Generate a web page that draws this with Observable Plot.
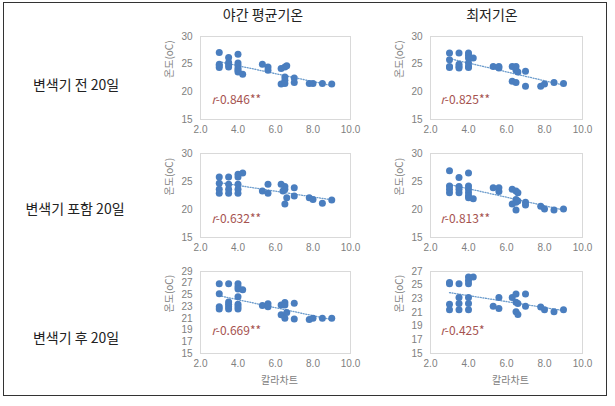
<!DOCTYPE html>
<html><head><meta charset="utf-8">
<script src="https://cdn.jsdelivr.net/npm/d3@7"></script>
<script src="https://cdn.jsdelivr.net/npm/@observablehq/plot@0.6"></script>
<style>
body{margin:0;background:#fff;}
#chart{position:relative;width:615px;height:406px;overflow:hidden;font-family:"Noto Sans CJK KR","Noto Sans",sans-serif;}
.lbl{position:absolute;white-space:nowrap;transform:translate(-50%,-50%);line-height:1;color:#222;font-size:14px;}
.box{position:absolute;left:3px;top:2px;width:604px;height:394px;border:1.5px solid #333;box-sizing:border-box;}
.panel{position:absolute;}
</style></head><body><div id="chart"><div class="box"></div></div>
<script>
// Column headers and row labels
const colHeaders = ["야간 평균기온", "최저기온"];
const rowLabels = ["변색기 전 20일", "변색기 포함 20일", "변색기 후 20일"];
const xTitle = "칼라차트";
const yTitle = "온도(oC)";
const xTicks = [2, 4, 6, 8, 10];

// Row 1: 변색기 전 20일
const before_night_x = [3.0,3.0,3.0,3.0, 3.5,3.5,3.5,3.5, 4.0,4.0,4.0,4.0,4.0,4.0, 4.25, 5.3, 5.6,5.6, 6.3,6.3, 6.5,6.5,6.5,6.5, 6.6, 7.0,7.0, 7.8, 8.0, 8.5, 9.0];
const before_night_y = [27.1,25.0,24.7,24.4, 26.2,25.3,24.9,24.5, 26.8,25.2,24.7,24.2,23.9,23.6, 23.2, 25.0, 24.5,23.9, 24.2,21.4, 24.5,22.7,22.1,21.5, 24.7, 22.5,21.7, 21.5, 21.5, 21.5, 21.4];
const before_min_x = [3.0,3.0,3.0,3.0, 3.5,3.5,3.5,3.5, 4.0,4.0,4.0,4.0,4.0,4.0, 4.25, 5.3, 5.6,5.6, 6.3,6.3, 6.5,6.5,6.5, 6.6, 7.0,7.0, 7.8, 8.0, 8.5, 9.0];
const before_min_y = [27.0,25.8,24.6,24.4, 27.0,25.0,24.6,24.3, 27.0,26.6,26.1,25.2,24.6,24.4, 26.1, 24.6, 24.6,24.3, 24.6,21.9, 24.6,23.9,21.7, 23.6, 23.7,21.0, 21.0, 21.4, 21.7, 21.5];

// Row 2: 변색기 포함 20일
const incl_night_x = [3.0,3.0,3.0,3.0, 3.5,3.5,3.5,3.5, 4.0,4.0,4.0,4.0,4.0, 4.25, 5.3, 5.6,5.6, 6.3, 6.4, 6.5,6.5,6.5, 6.6, 7.0,7.0, 7.8, 8.0, 8.5, 9.0];
const incl_night_y = [25.8,24.7,23.6,22.9, 25.8,24.5,23.6,22.9, 26.3,25.8,24.5,23.6,22.9, 26.5, 23.3, 24.5,22.9, 24.5, 23.3, 24.1,23.6,21.0, 22.1, 23.9,22.4, 22.1, 21.8, 21.1, 21.7];
const incl_min_x = [3.0,3.0,3.0,3.0, 3.5,3.5,3.5,3.5, 4.0,4.0,4.0,4.0,4.0,4.0, 4.25, 5.3, 5.6,5.6, 6.3,6.3, 6.5,6.5,6.5,6.5, 6.6,6.6, 7.0,7.0, 7.8, 8.0, 8.5, 9.0];
const incl_min_y = [26.9,24.2,23.6,23.0, 25.7,24.1,23.6,23.0, 26.5,24.2,23.6,23.0,22.4,22.1, 21.9, 23.9, 23.9,23.2, 23.6,21.0, 23.3,21.8,21.3,19.9, 23.0,21.5, 21.3,20.8, 20.6, 20.1, 19.9, 20.1];

// Row 3: 변색기 후 20일
const after_night_x = [3.0,3.0,3.0,3.0, 3.5,3.5,3.5,3.5,3.5, 4.0,4.0,4.0,4.0,4.0,4.0,4.0, 4.25, 5.3, 5.6,5.6, 6.3,6.3, 6.5,6.5,6.5, 6.6, 7.0,7.0, 7.8, 8.0, 8.5, 9.0];
const after_night_y = [26.9,25.2,23.0,22.6, 26.9,23.8,23.4,23.0,22.6, 26.9,26.4,26.0,24.7,23.4,23.0,22.6, 25.9, 23.2, 23.5,23.0, 23.3,21.6, 23.7,23.3,21.0, 22.0, 23.6,20.9, 20.8, 21.0, 21.0, 21.0];
const after_min_x = [3.0,3.0,3.0,3.0, 3.5,3.5,3.5,3.5, 4.0,4.0,4.0,4.0,4.0,4.0, 4.25, 5.3, 5.6,5.6, 6.3, 6.5,6.5,6.5, 6.6,6.6, 7.0,7.0, 7.8, 8.0, 8.5, 9.0];
const after_min_y = [25.2,25.4,22.2,21.4, 25.2,23.2,22.3,21.4, 26.2,25.7,25.2,23.2,22.3,21.4, 26.2, 21.9, 23.2,21.6, 23.2, 23.7,22.5,21.1, 22.3,20.7, 23.7,21.9, 21.8, 21.4, 21.1, 21.4];

// Correlation labels
const rValues = ["-0.846**", "-0.825**", "-0.632**", "-0.813**", "-0.669**", "-0.425*"];

// Y-axis tick sets
const yTicksA = [15, 20, 25, 30];
const yTicksB = [15, 17, 19, 21, 23, 25, 27, 29];
const yTicksC = [15, 17, 19, 21, 23, 25, 27];

const chart = document.getElementById("chart");

// layout (positions only)
const colLeft = [150, 380];
const colFrameW = [150, 152];
const rowTop = [26, 143, 261];
const rowFrameH = [83, 84, 82];
const labelCenters = [[263, 14], [492, 14]];
const rowCenters = [[76, 84], [75, 208], [76, 337]];

colHeaders.forEach((t, i) => {
  const d = document.createElement("div");
  d.className = "lbl"; d.textContent = t;
  d.style.left = labelCenters[i][0] + "px"; d.style.top = labelCenters[i][1] + "px";
  chart.appendChild(d);
});
rowLabels.forEach((t, i) => {
  const d = document.createElement("div");
  d.className = "lbl"; d.textContent = t;
  d.style.left = rowCenters[i][0] + "px"; d.style.top = rowCenters[i][1] + "px";
  chart.appendChild(d);
});

const panels = [
  {xs: before_night_x, ys: before_night_y, r: rValues[0], ticks: yTicksA, row: 0, col: 0, rdy: -16},
  {xs: before_min_x, ys: before_min_y, r: rValues[1], ticks: yTicksA, row: 0, col: 1, rdy: -16},
  {xs: incl_night_x, ys: incl_night_y, r: rValues[2], ticks: yTicksA, row: 1, col: 0, rdy: -15},
  {xs: incl_min_x, ys: incl_min_y, r: rValues[3], ticks: yTicksA, row: 1, col: 1, rdy: -15},
  {xs: after_night_x, ys: after_night_y, r: rValues[4], ticks: yTicksB, row: 2, col: 0, rdy: -19},
  {xs: after_min_x, ys: after_min_y, r: rValues[5], ticks: yTicksC, row: 2, col: 1, rdy: -19},
];

const gray = "#808080";
const tickFont = '"Liberation Sans", Arial, sans-serif';
panels.forEach(p => {
  const last = p.row === 2;
  const mt = 10, mb = last ? 40 : 20, ml = 50, mr = 14;
  const w = ml + colFrameW[p.col] + mr;
  const h = mt + rowFrameH[p.row] + mb;
  const rdx = p.col === 0 ? 11 : 10;
  const marks = [
    Plot.frame({stroke: "#d9d9d9"}),
    Plot.axisY({ticks: p.ticks, tickSize: 0, tickPadding: 8, label: null, fill: gray, fontSize: 10, fontFamily: tickFont}),
    Plot.axisX({ticks: xTicks, tickSize: 0, tickPadding: 6, tickFormat: d => d.toFixed(1), label: null, fill: gray, fontSize: 10, fontFamily: tickFont}),
    Plot.text([yTitle], {frameAnchor: "left", rotate: -90, dx: -31, fill: gray, fontSize: 10}),
    Plot.linearRegressionY(p.ys, {x: p.xs, y: p.ys, ci: 0, stroke: "#6c9ccc", strokeWidth: 1.3, strokeDasharray: "1 1.6"}),
    Plot.dot(p.ys, {x: p.xs, y: p.ys, r: 3.5, fill: "#4a7ebf", stroke: "none"}),
    Plot.text(["r"], {frameAnchor: "bottom-left", dx: rdx, dy: p.rdy, textAnchor: "start", fontStyle: "italic", fill: "#a5524f", fontSize: 12}),
    Plot.text([p.r], {frameAnchor: "bottom-left", dx: rdx + 4.3, dy: p.rdy, textAnchor: "start", fill: "#a5524f", fontSize: 12}),
  ];
  if (last) marks.push(Plot.text([xTitle], {frameAnchor: "bottom", dy: 30, dx: 4, fill: gray, fontSize: 10}));
  const svg = Plot.plot({
    width: w, height: h,
    marginTop: mt, marginBottom: mb, marginLeft: ml, marginRight: mr,
    x: {domain: [2, 10]},
    y: {domain: [p.ticks[0], p.ticks[p.ticks.length - 1]]},
    style: {fontFamily: '"Noto Sans CJK KR","Noto Sans",sans-serif', fontSize: "10px", background: "transparent", overflow: "visible"},
    marks
  });
  svg.classList.add("panel");
  svg.style.position = "absolute";
  svg.style.left = colLeft[p.col] + "px";
  svg.style.top = rowTop[p.row] + "px";
  chart.appendChild(svg);
});
</script>
</body></html>
